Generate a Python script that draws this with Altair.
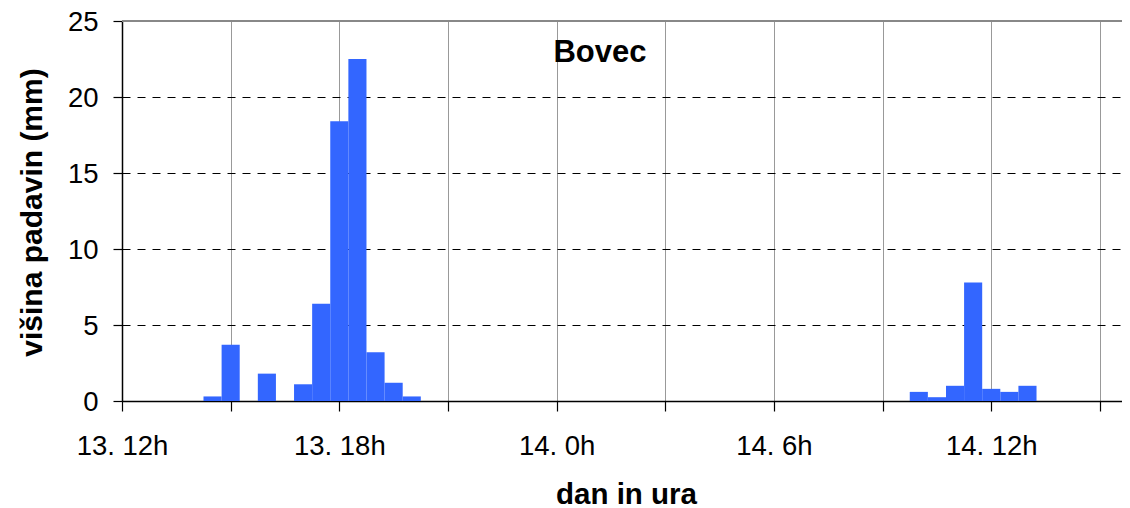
import altair as alt
import pandas as pd

# hours since 13. 0h (values >= 24 belong to day 14), half-hour totals
times = [14.5, 15.0, 16.0, 17.0, 17.5, 18.0, 18.5, 19.0, 19.5, 20.0,
         34.0, 34.5, 35.0, 35.5, 36.0, 36.5, 37.0]
values = [0.3, 3.7, 1.8, 1.1, 6.4, 18.4, 22.5, 3.2, 1.2, 0.3,
          0.6, 0.25, 1.0, 7.8, 0.8, 0.6, 1.0]

x_ticks = [12, 15, 18, 21, 24, 27, 30, 33, 36, 39]
x_labels = {12: "13. 12h", 18: "13. 18h", 24: "14. 0h", 30: "14. 6h", 36: "14. 12h"}
y_ticks = [0, 5, 10, 15, 20, 25]
station = ["Bovec"]
x_title = "dan in ura"
y_title = "višina padavin (mm)"

FONT = "Liberation Sans"

df = pd.DataFrame({"t": times, "v": values})

label_expr = " : ".join(
    [f"datum.value == {k} ? '{v}'" for k, v in x_labels.items()]
) + " : ''"

x_scale = alt.Scale(domain=[12, 39.61], nice=False, zero=False, padding=0)
y_scale = alt.Scale(domain=[0, 25], nice=False, padding=0)

x_axis = alt.Axis(
    values=x_ticks, labelExpr=label_expr, title=x_title,
    grid=True, gridColor="#999999", gridWidth=1,
    domainColor="#000000", domainWidth=1.5,
    tickColor="#000000", tickSize=10, tickWidth=1.2,
    labelFont=FONT, labelFontSize=27.5, labelColor="#000000",
    labelPadding=21, labelAngle=0, labelFlush=False, labelOverlap=False,
    titleFont=FONT, titleFontSize=29.5, titleFontWeight="bold", titleColor="#000000",
    titleX=504, titleY=102, titleBaseline="alphabetic", titleAlign="center",
)
y_axis = alt.Axis(
    values=y_ticks, format="d", title=y_title,
    grid=True, gridColor="#000000", gridDash=[8, 7], gridWidth=1,
    domainColor="#000000", domainWidth=1.5,
    tickColor="#000000", tickSize=9, tickWidth=1.2,
    labelFont=FONT, labelFontSize=27.5, labelColor="#000000",
    labelPadding=15, labelOffset=1.5, labelFlush=False, labelOverlap=False,
    titleFont=FONT, titleFontSize=30, titleFontWeight="bold", titleColor="#000000",
    titleAngle=270, titleX=-80.5, titleY=191, titleBaseline="alphabetic", titleAlign="center",
)

bars = alt.Chart(df).transform_calculate(
    t0="datum.t - 0.25", t1="datum.t + 0.25"
).mark_bar(color="#3366FF", orient="vertical").encode(
    x=alt.X("t0:Q", scale=x_scale, axis=x_axis),
    x2="t1:Q",
    y=alt.Y("v:Q", scale=y_scale, axis=y_axis),
    y2=alt.datum(0),
)

top_border = alt.Chart(df).mark_rule(color="#888888", strokeWidth=2).encode(
    y=alt.datum(25, scale=y_scale)
)

title = alt.Chart(pd.DataFrame({"s": station})).mark_text(
    font=FONT, fontSize=31, fontWeight="bold", color="#000000",
    align="center", baseline="middle"
).encode(text="s:N", x=alt.value(478), y=alt.value(32))

chart = alt.layer(bars, top_border, title).properties(
    width=1000, height=380,
    padding={"left": 114, "top": 13, "right": 0, "bottom": 107},
    autosize=alt.AutoSizeParams(type="none"),
).configure_view(stroke=None).configure(background="#ffffff")

chart.save("out.html", embed_options={"renderer": "svg", "actions": False})
